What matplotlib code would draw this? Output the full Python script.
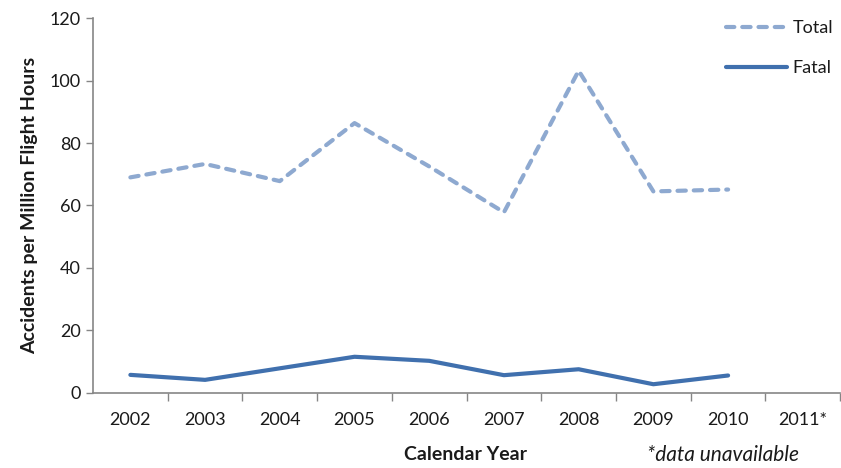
import matplotlib
matplotlib.use('Agg')
import matplotlib.pyplot as plt
import numpy as np

years = ['2002', '2003', '2004', '2005', '2006', '2007', '2008', '2009', '2010', '2011*']
total = [69.0, 73.3, 67.8, 86.4, 72.5, 57.8, 103.2, 64.5, 65.1]
fatal = [5.7, 4.1, 7.8, 11.5, 10.2, 5.6, 7.5, 2.7, 5.5]

plt.rcParams['font.family'] = ['Lato', 'DejaVu Sans']
axis_grey = '#868686'
text_col = '#1a1a1a'

fig = plt.figure(figsize=(8.41, 4.68), dpi=100)
ax = fig.add_axes([0.1106, 0.161, 0.8884, 0.800])

x = np.arange(len(total))
ax.plot(x, total, color='#8EA9D0', lw=3.0, ls=(0, (2.0, 1.9)),
        solid_capstyle='round', dash_capstyle='round', label='Total')
ax.plot(x, fatal, color='#4070AE', lw=3.0, solid_capstyle='round', label='Fatal')

ax.set_xlim(-0.5, len(years) - 0.5)
ax.set_ylim(0, 120)
ax.set_yticks(range(0, 121, 20))
ax.set_xticks(range(len(years)))
ax.set_xticklabels(years)
ax.set_xticks(np.arange(0.5, len(years), 1.0), minor=True)
ax.tick_params(axis='x', which='major', length=0, pad=14, labelsize=13, colors=text_col)
ax.tick_params(axis='x', which='minor', length=6, color=axis_grey, width=1)
ax.tick_params(axis='y', length=5, color=axis_grey, width=1, labelsize=13, pad=4,
               labelcolor=text_col)

for side in ['top', 'right']:
    ax.spines[side].set_visible(False)
for side in ['left', 'bottom']:
    ax.spines[side].set_color(axis_grey)
    ax.spines[side].set_linewidth(1.2)

ax.set_ylabel('Accidents per Million Flight Hours', fontsize=14, fontweight='bold',
              labelpad=8, color=text_col)
fig.text(0.553, 0.028, 'Calendar Year', fontsize=14, fontweight='bold',
         ha='center', va='center', color=text_col)
fig.text(0.860, 0.028, '*data unavailable', fontsize=15, style='italic',
         ha='center', va='center', color=text_col)

# legend sits in the top-right corner of the figure
ax.legend(loc='upper right', bbox_to_anchor=(1.008, 0.988), bbox_transform=fig.transFigure,
          frameon=False, fontsize=13, handlelength=3.4, labelspacing=1.35,
          handletextpad=0.3, borderaxespad=0.4, labelcolor=text_col)

fig.savefig('out.png', dpi=100)
